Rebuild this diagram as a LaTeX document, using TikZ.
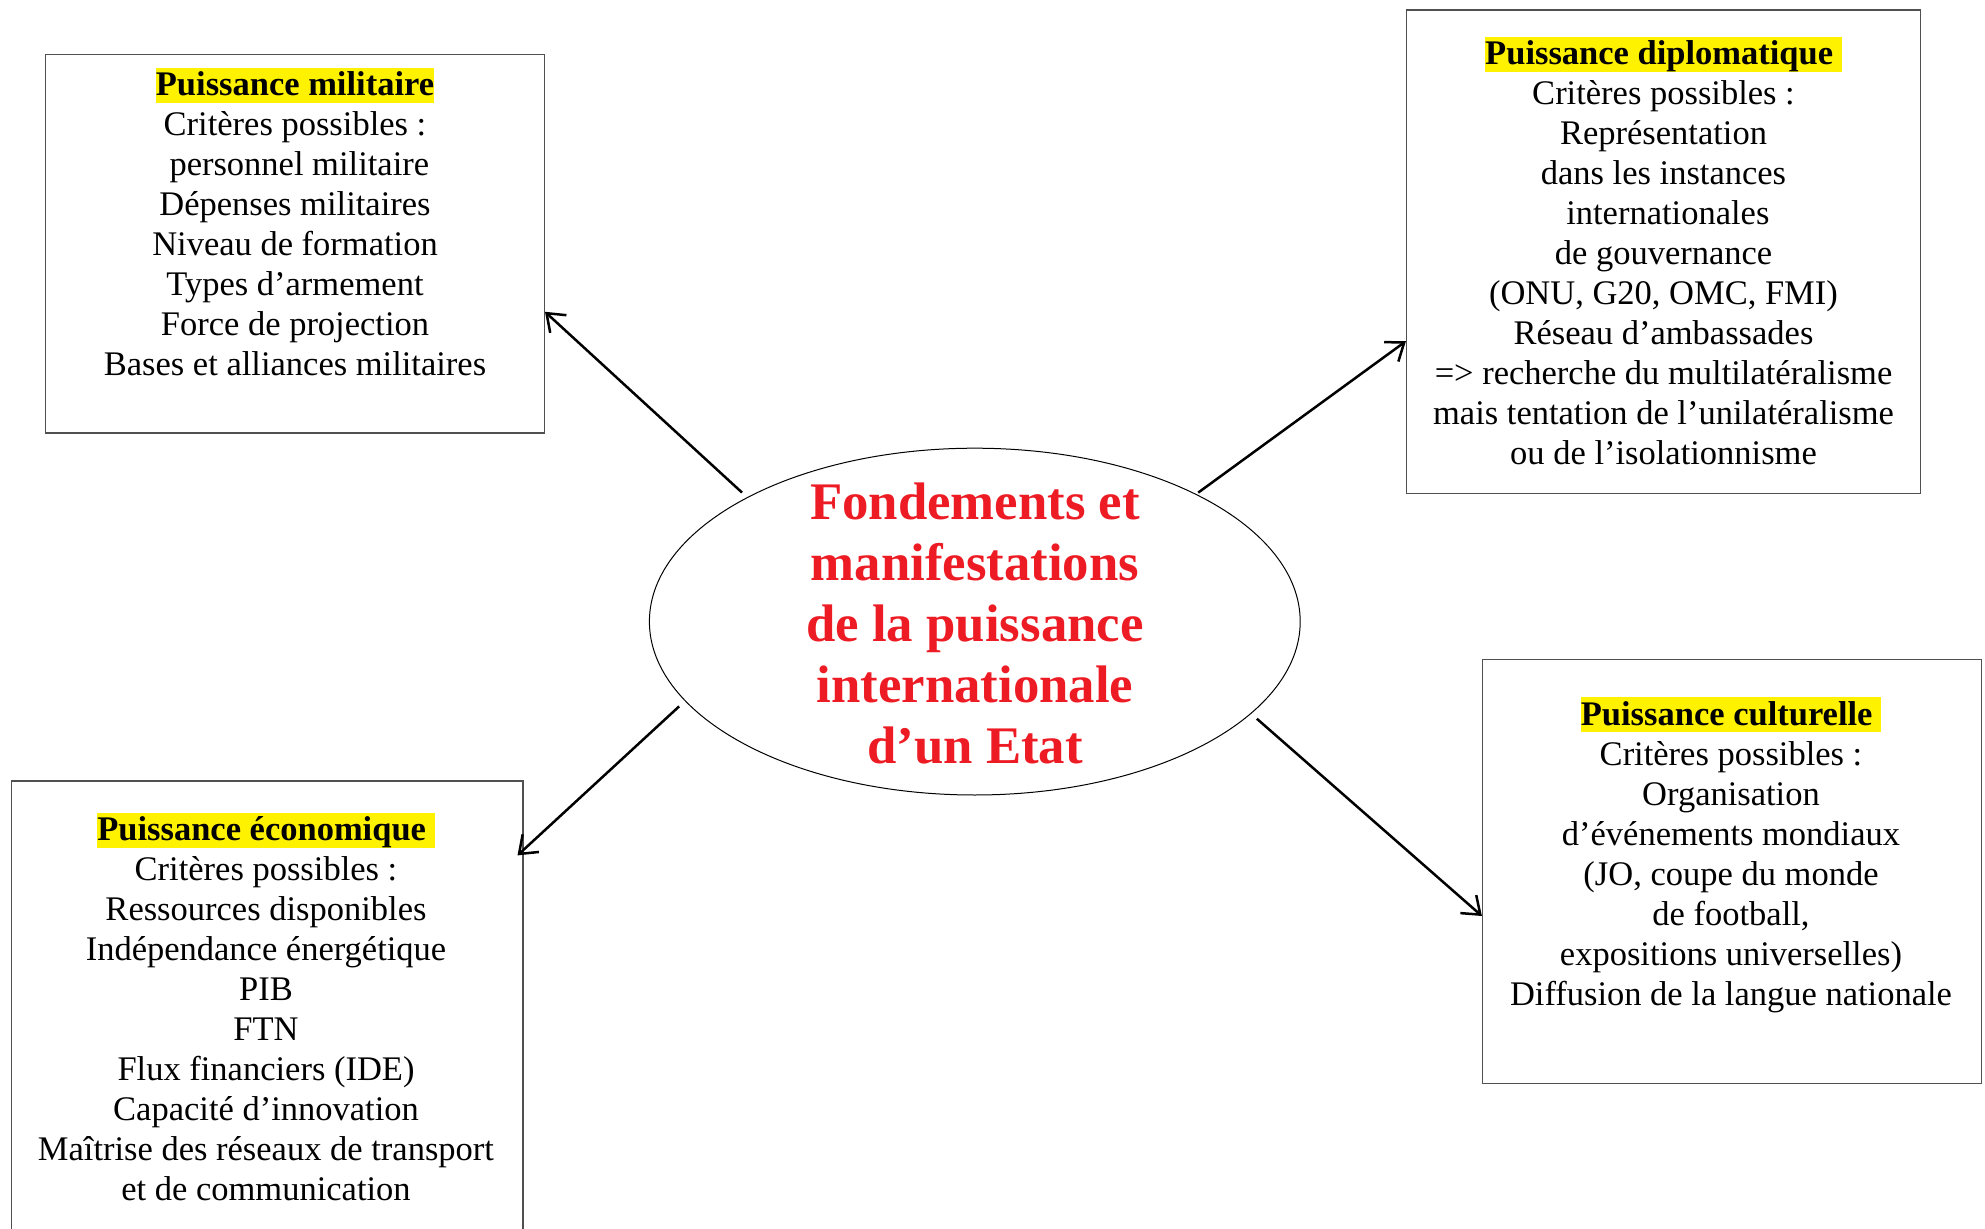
\documentclass[tikz,border=0pt]{standalone}
\usepackage{fontspec}
\setmainfont{Liberation Serif}
\usetikzlibrary{shapes.geometric,calc,arrows.meta}
\definecolor{hlyellow}{RGB}{255,242,0}
\definecolor{titlered}{RGB}{237,28,36}
\definecolor{boxgray}{RGB}{80,80,80}
\newcommand{\myhl}[1]{{\setlength{\fboxsep}{0pt}\colorbox{hlyellow}{\rule[-3.7pt]{0pt}{17.5pt}\textbf{#1}}}}
\begin{document}
\begin{tikzpicture}[x=0.5pt,y=-0.5pt,
  box/.style={draw=boxgray,line width=0.6pt,inner sep=0pt,rectangle},
  txt/.style={align=center,inner sep=0pt,font=\fontsize{17.25pt}{20pt}\selectfont},
  arr/.style={line width=1.25pt,-{Straight Barb[length=8pt,width=12pt,line width=1.25pt]}}]
\useasboundingbox (0,0) rectangle (1985,1229);
% boxes
\node[box,minimum width=249.4pt,minimum height=189.3pt] (mil) at (295,243.7) {};
\node[box,minimum width=257pt,minimum height=241.8pt] (dip) at (1663.5,251.9) {};
\node[box,minimum width=255.75pt,minimum height=229.5pt] (eco) at (267.15,1010.5) {};
\node[box,minimum width=249.4pt,minimum height=212.05pt] (cul) at (1731.9,871.65) {};
% ellipse
\node[draw,ellipse,line width=0.5pt,minimum width=325.4pt,minimum height=173.4pt,inner sep=0pt] (ell) at (974.8,621.6) {};
% texts
\node[txt] (milt) at (295,222.2) {\myhl{Puissance militaire}\\
Critères possibles :\\
\ personnel militaire\\
Dépenses militaires\\
Niveau de formation\\
Types d’armement\\
Force de projection\\
Bases et alliances militaires};
\node[txt] (dipt) at (1663.5,251.0) {\myhl{Puissance diplomatique\ }\\
Critères possibles :\\
Représentation\\
dans les instances\\
\ internationales\\
de gouvernance\\
(ONU, G20, OMC, FMI)\\
Réseau d’ambassades\\
=> recherche du multilatéralisme\\
mais tentation de l’unilatéralisme\\
ou de l’isolationnisme};
\node[txt] (ecot) at (266,1006.5) {\myhl{Puissance économique\ }\\
Critères possibles :\\
Ressources disponibles\\
Indépendance énergétique\\
PIB\\
FTN\\
Flux financiers (IDE)\\
Capacité d’innovation\\
Maîtrise des réseaux de transport\\
et de communication};
\node[txt] (cult) at (1731,855.0) {\myhl{Puissance culturelle\ }\\
Critères possibles :\\
Organisation\\
d’événements mondiaux\\
(JO, coupe du monde\\
de football,\\
expositions universelles)\\
Diffusion de la langue nationale};
\node[align=center,inner sep=0pt,text=titlered,font=\fontsize{26.4pt}{30.5pt}\selectfont\bfseries] (title) at (975,623.5) {Fondements et\\
manifestations\\
de la puissance\\
internationale\\
d’un Etat};
% arrows
\draw[arr] ($(ell.center)!1.03!(ell.151)$) -- ($(mil.north east)+(0,258)$);
\draw[arr] ($(ell.center)!1.01!(ell.30.4)$) -- ($(dip.north west)+(0,331.7)$);
\draw[arr] ($(ell.center)!1.03!(ell.196.1)$) -- ($(eco.north east)+(-6,75)$);
\draw[arr] ($(ell.center)!1.03!(ell.-19.7)$) -- ($(cul.north west)+(0,257)$);
\end{tikzpicture}
\end{document}
